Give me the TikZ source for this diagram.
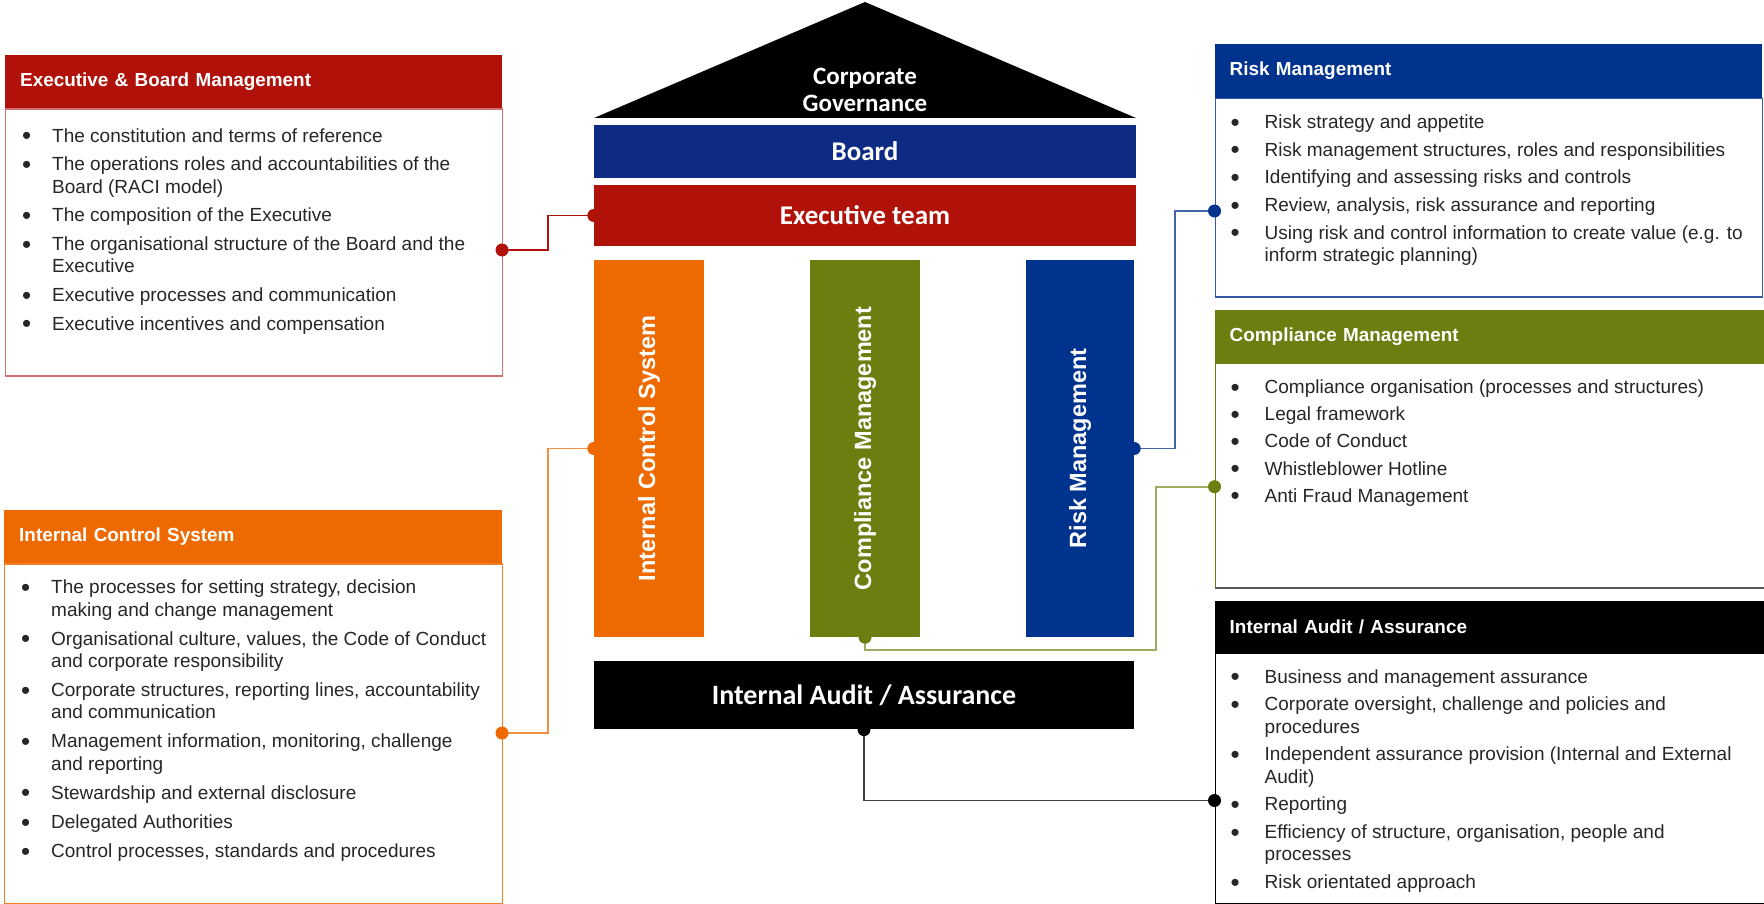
\documentclass[tikz,border=0pt]{standalone}
\usepackage{fontspec}
\setmainfont{Liberation Sans}
\newfontfamily\barfont{Carlito}
\usepackage{xcolor,tikz}

\definecolor{execred}{RGB}{176,18,10}
\definecolor{icsorange}{RGB}{238,106,0}
\definecolor{compgreen}{RGB}{106,127,16}
\definecolor{riskblue}{RGB}{0,51,141}
\definecolor{boardblue}{RGB}{14,43,131}

\newlength\bulw
\newcommand\bul[1]{\hangindent=\bulw\hangafter=1\noindent
  \hbox to \bulw{\raisebox{-2.6pt}{\fontsize{26}{0}\selectfont\textbullet}\hfil}#1\par}
% width, gap between items, bullet column, items
\newcommand\bullist[4]{\parbox[t]{#1}{\setlength\bulw{#3}\fontsize{19}{22.3}\selectfont
  \raggedright\setlength\parskip{#2}#4}}

\begin{document}
\begin{tikzpicture}[x=1pt,y=-1pt,
  bar/.style={text=white,inner sep=0pt,font=\barfont\bfseries\fontsize{27}{32}\selectfont},
  pillar/.style={minimum width=110pt,minimum height=377pt,inner sep=0pt},
  pillartext/.style={rotate=90,text=white,font=\bfseries\fontsize{23.5}{28}\selectfont},
  head/.style={anchor=north west,inner xsep=15pt,inner ysep=0pt,text width=#1,align=left,
    text=white,font=\bfseries\fontsize{18.9}{22}\selectfont},
  body/.style={anchor=north west,inner sep=0pt,line width=1.2pt},
  list/.style={anchor=base west,inner sep=0pt,text=black!85},
  link/.style={line width=1.8pt}]
\useasboundingbox (0,0) rectangle (1764,904);

% the house
\fill (594,118) -- (865,2) -- (1136,118) -- cycle;
\node[bar,align=center,font=\barfont\bfseries\fontsize{25}{27}\selectfont] (gov) at (865,89.5) {Corporate\\Governance};
\node[bar,fill=boardblue,minimum width=542pt,minimum height=53pt] (board) at (865,151.5) {Board};
\node[bar,fill=execred,minimum width=542pt,minimum height=61pt] (exec) at (865,215.5) {Executive team};
\node[pillar,fill=icsorange] (icsp) at (649,448.5) {};
\node[pillar,fill=compgreen] (compp) at (865,448.5) {};
\node[pillar,fill=riskblue,minimum width=108pt] (riskp) at (1080,448.5) {};
\node[pillartext] at (icsp) {Internal Control System};
\node[pillartext] at (compp) {Compliance Management};
\node[pillartext] at (riskp) {Risk Management};
\node[bar,fill=black,minimum width=540pt,minimum height=68pt,font=\barfont\bfseries\fontsize{28}{32}\selectfont] (auditbar) at (864,695.4) {Internal Audit / Assurance};

% left boxes
\node[head=467pt,fill=execred,minimum height=53pt] (ebmhead) at (5,55) {Executive \& Board Management};
\node[body,draw=execred!60,minimum width=497pt,minimum height=267pt] (ebmbody) at (ebmhead.south west) {};
\node[list] (ebmlist) at ([shift={(17,33.7)}]ebmhead.south west) {\bullist{480pt}{6.4pt}{30pt}{%
  \bul{The constitution and terms of reference}
  \bul{The operations roles and accountabilities of the\newline Board (RACI model)}
  \bul{The composition of the Executive}
  \bul{The organisational structure of the Board and the\newline Executive}
  \bul{Executive processes and communication}
  \bul{Executive incentives and compensation}}};

\node[head=468pt,fill=icsorange,minimum height=53pt] (icshead) at (4,510) {Internal Control System};
\node[body,draw=icsorange!85,minimum width=498pt,minimum height=340pt] (icsbody) at (icshead.south west) {};
\node[list] (icslist) at ([shift={(17,30.3)}]icshead.south west) {\bullist{480pt}{6.8pt}{30pt}{%
  \bul{The processes for setting strategy, decision\newline making and change management}
  \bul{Organisational culture, values, the Code of Conduct\newline and corporate responsibility}
  \bul{Corporate structures, reporting lines, accountability\newline and communication}
  \bul{Management information, monitoring, challenge\newline and reporting}
  \bul{Stewardship and external disclosure}
  \bul{Delegated Authorities}
  \bul{Control processes, standards and procedures}}};

% right boxes
\node[head=517.5pt,fill=riskblue,minimum height=54pt] (riskhead) at (1214.5,43.5) {Risk Management};
\node[body,draw=riskblue!80,minimum width=547.5pt,minimum height=198.5pt] (riskbody) at (riskhead.south west) {};
\node[list] (risklist) at ([shift={(16,30.8)}]riskhead.south west) {\bullist{530pt}{5.3pt}{34pt}{%
  \bul{Risk strategy and appetite}
  \bul{Risk management structures, roles and responsibilities}
  \bul{Identifying and assessing risks and controls}
  \bul{Review, analysis, risk assurance and reporting}
  \bul{Using risk and control information to create value (e.g. to\newline inform strategic planning)}}};

\node[head=540pt,fill=compgreen,minimum height=52.5pt] (comphead) at (1214.5,310) {Compliance Management};
\node[body,draw=compgreen,minimum width=570pt,minimum height=224pt] (compbody) at (comphead.south west) {};
\draw[line width=2.5pt,black!65] (compbody.south west) -- (compbody.south east);
\node[list] (complist) at ([shift={(16,30.8)}]comphead.south west) {\bullist{530pt}{4.8pt}{34pt}{%
  \bul{Compliance organisation (processes and structures)}
  \bul{Legal framework}
  \bul{Code of Conduct}
  \bul{Whistleblower Hotline}
  \bul{Anti Fraud Management}}};

\node[head=540pt,fill=black,minimum height=52pt] (audithead) at (1214.5,600.5) {Internal Audit / Assurance};
\node[body,draw=black,minimum width=570pt,minimum height=250.5pt] (auditbody) at (audithead.south west) {};
\node[list] (auditlist) at ([shift={(16,30.2)}]audithead.south west) {\bullist{530pt}{5.4pt}{34pt}{%
  \bul{Business and management assurance}
  \bul{Corporate oversight, challenge and policies and\newline procedures}
  \bul{Independent assurance provision (Internal and External\newline Audit)}
  \bul{Reporting}
  \bul{Efficiency of structure, organisation, people and\newline processes}
  \bul{Risk orientated approach}}};

% links between house and boxes
\coordinate (ebmport) at (502,250);
\coordinate (icsport) at (502,733);
\coordinate (riskport) at (1214.5,211);
\coordinate (compport) at (1214.5,486.7);
\coordinate (auditport) at (1214.5,800.5);
\coordinate (greenbend) at (1156,650);
\draw[link,execred] (exec.west) -- ++(-46,0) |- (ebmport);
\draw[link,icsorange!75] (icsp.west) -- ++(-46,0) |- (icsport);
\draw[link,riskblue!75] (riskp.east) -- ++(41,0) |- (riskport);
\draw[link,compgreen!65] (compp.south) |- (greenbend) |- (compport);
\draw[link,black!75] (auditbar.south) |- (auditport);
\foreach \p/\c in {exec.west/execred,ebmport/execred,icsp.west/icsorange,icsport/icsorange,
  riskp.east/riskblue,riskport/riskblue,compp.south/compgreen,compport/compgreen,
  auditbar.south/black,auditport/black}
  \fill[\c] (\p) circle (6.5pt);
\end{tikzpicture}
\end{document}
